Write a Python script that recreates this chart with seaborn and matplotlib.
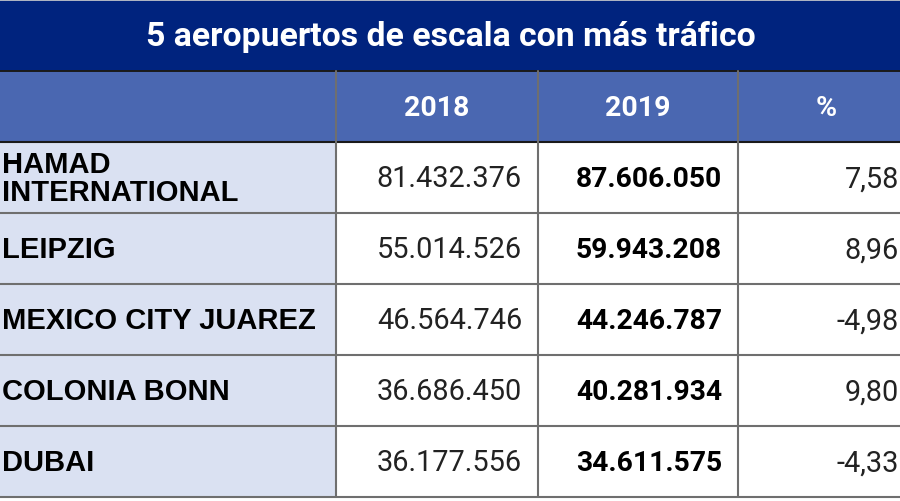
import seaborn as sns
import matplotlib.pyplot as plt
from matplotlib.patches import Rectangle

sns.set_theme(style="white")

#### data
title = "5 aeropuertos de escala con más tráfico"
columns = ["", "2018", "2019", "%"]
airports = ["HAMAD\nINTERNATIONAL", "LEIPZIG", "MEXICO CITY JUAREZ", "COLONIA BONN", "DUBAI"]
pax_2018 = ["81.432.376", "55.014.526", "46.564.746", "36.686.450", "36.177.556"]
pax_2019 = ["87.606.050", "59.943.208", "44.246.787", "40.281.934", "34.611.575"]
change = ["7,58", "8,96", "-4,98", "9,80", "-4,33"]

#### layout (pixels)
col_edges = [0, 336, 538, 738, 900]
title_h = 72
row_h = 71
navy = "#00237e"
head_blue = "#4a67b1"
name_bg = "#dae1f2"
line_c = "#6f6f6f"

fig = plt.figure(figsize=(9, 5.02), dpi=100)
ax = fig.add_axes([0, 0, 1, 1])
ax.set_xlim(0, 900)
ax.set_ylim(502, 0)
ax.axis("off")

# title band
ax.add_patch(Rectangle((0, 0), 900, title_h, color=navy, lw=0))
ax.axhline(0.6, color="#d0d0d0", lw=1.2)
ax.text(451, title_h / 2 + 1, title, color="white", fontsize=24.3, fontweight="bold",
        family="Roboto", ha="center", va="center")

# header row
ax.add_patch(Rectangle((0, title_h), 900, row_h, color=head_blue, lw=0))
for i in range(1, 4):
    cx = (col_edges[i] + col_edges[i + 1]) / 2
    if i == 3:
        cx = 826
    ax.text(cx, title_h + row_h / 2 + 1, columns[i], color="white", fontsize=20.5,
            fontweight="bold", family="Roboto", ha="center", va="center")

# body
top = title_h + row_h
n = len(airports)
ax.add_patch(Rectangle((0, top), col_edges[1], n * row_h, color=name_bg, lw=0))
for r in range(n):
    yc = top + r * row_h + row_h / 2
    ax.text(2, yc + 1, airports[r], color="black", fontsize=21, fontweight="bold",
            family="Liberation Sans", ha="left", va="center", linespacing=1.0)
    ax.text(522, yc + 1, pax_2018[r], color="#222222", fontsize=20.8, family="Roboto",
            ha="right", va="center")
    ax.text(722, yc + 1, pax_2019[r], color="black", fontsize=20.3, fontweight="bold",
            family="Roboto", ha="right", va="center")
    ax.text(899, yc + 1, change[r], color="#222222", fontsize=20.8, family="Roboto",
            ha="right", va="center")

# grid lines
ax.plot([0, 900], [title_h, title_h], color="#1a1a1a", lw=1.4)
for r in range(n + 1):
    y = top + r * row_h
    ax.plot([0, 900], [y, y], color=line_c if r else "#1a1a1a", lw=1.5)
for x in col_edges[1:4]:
    ax.plot([x, x], [title_h, top + n * row_h], color=line_c, lw=1.5)

fig.savefig("out.png", dpi=100)
